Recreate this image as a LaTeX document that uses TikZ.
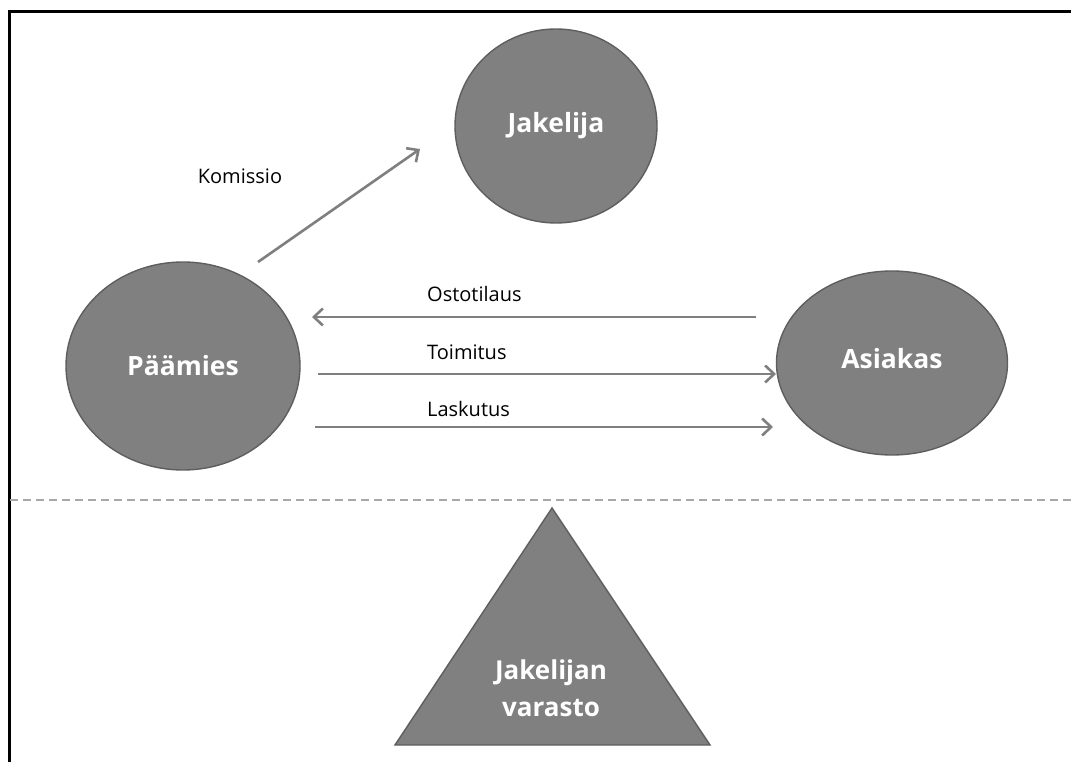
\documentclass[tikz,border=0pt]{standalone}
\usepackage{fontspec}
\setmainfont{Open Sans}
\usetikzlibrary{arrows.meta,shapes.geometric}
\definecolor{shapefill}{HTML}{808080}
\definecolor{shapeedge}{HTML}{5E5E5E}
\definecolor{flowgray}{HTML}{7F7F7F}
\definecolor{sepgray}{HTML}{A8A8A8}
\tikzset{
  x=1pt, y=-1pt,
  party/.style={ellipse, fill=shapefill, draw=shapeedge, line width=1.4pt,
    text=white, font=\fontsize{26.5}{30}\selectfont\bfseries, inner sep=0pt},
  flow/.style={draw=flowgray, line width=2.6pt,
    -{Straight Barb[length=9pt,width=17pt,line width=2.6pt]}},
  flowlabel/.style={font=\fontsize{20}{24}\selectfont, text=black, inner sep=0pt},
  frameline/.style={draw=black, line width=3pt},
}
\begin{document}
\begin{tikzpicture}
\useasboundingbox (0,0) rectangle (1071,762);
\fill[white] (0,0) rectangle (1071,762);

% outer frame (top and left edges)
\draw[frameline] (9,762) -- (9,12) -- (1071,12);

% separator between the upper and lower halves
\draw[sepgray, line width=2pt, dash pattern=on 8pt off 5pt] (10,500) -- (1071,500);

% parties
\node[party, minimum width=202pt, minimum height=194pt] (jakelija) at (556,126) {Jakelija};
\node[party, minimum width=234pt, minimum height=208pt] (paamies) at (183,366) {Päämies};
\node[party, minimum width=231pt, minimum height=184pt] (asiakas) at (892,363) {\raisebox{10pt}{Asiakas}};

% distributor warehouse
\draw[fill=shapefill, draw=shapeedge, line width=1.4pt] (395,745) -- (710,745) -- (552,508) -- cycle;
\node[text=white, font=\fontsize{26}{37}\selectfont\bfseries, align=center] (varasto) at (551,688) {Jakelijan\\varasto};

% connector end points
\coordinate (komA) at (258,262);
\coordinate (komB) at (420,149);
\coordinate (ostA) at (756,317);
\coordinate (ostB) at (312,317);
\coordinate (toiA) at (318,374);
\coordinate (toiB) at (776,374);
\coordinate (lasA) at (315,427);
\coordinate (lasB) at (773,427);

\draw[flow] (komA) -- (komB);
\draw[flow] (ostA) -- (ostB);
\draw[flow] (toiA) -- (toiB);
\draw[flow] (lasA) -- (lasB);

% flow labels
\node[flowlabel] (lkom) at (240,176) {Komissio};
\node[flowlabel, anchor=west] (lost) at (427,294) {Ostotilaus};
\node[flowlabel, anchor=west] (ltoi) at (427,352) {Toimitus};
\node[flowlabel, anchor=west] (llas) at (427,409) {Laskutus};
\end{tikzpicture}
\end{document}
